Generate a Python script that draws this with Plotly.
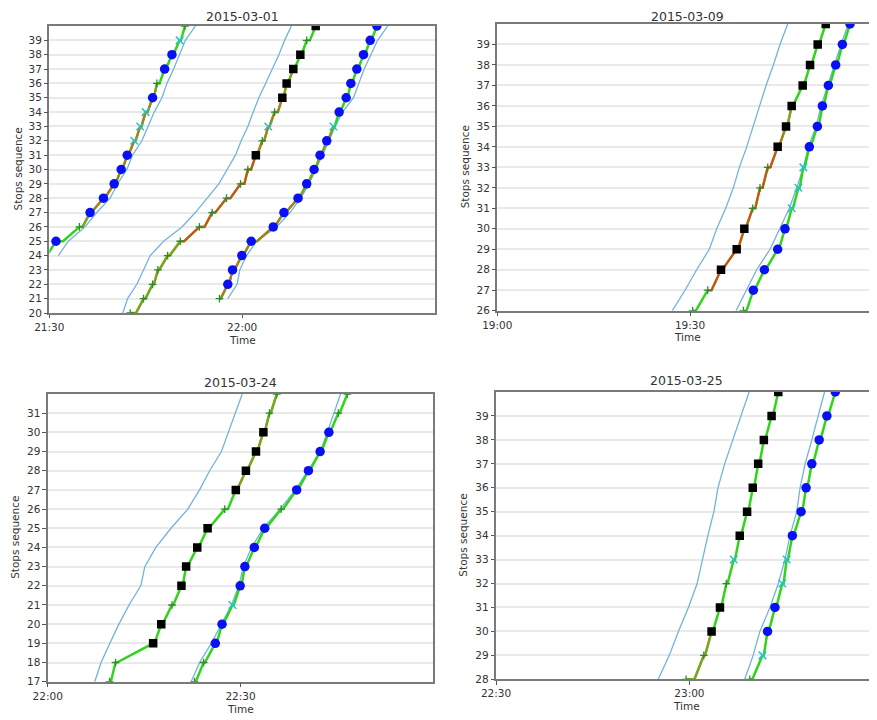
import pandas as pd
import plotly.graph_objects as go

# ======================= DATA =======================
PANEL_DATES = ["2015-03-01", "2015-03-09", "2015-03-24", "2015-03-25"]
PANEL_START = ["21:30", "19:00", "22:00", "22:30"]
PANEL_TICKS = [["21:30", "22:00"], ["19:00", "19:30"], ["22:00", "22:30"], ["22:30", "23:00"]]
PANEL_YRANGE = [(20, 40), (26, 40), (17, 32), (28, 40)]
PANEL_XSPAN_MIN = [60, 59.1, 60, 59.1]
X_LABEL = "Time"
Y_LABEL = "Stops sequence"

# Scheduled trajectories (minutes after panel start, one value per stop from first stop)
P1_SCHED_1_FIRST, P1_SCHED_1 = 24, [1.40, 2.96, 5.56, 7.38, 9.46, 10.61, 12.06, 12.95, 14.40, 15.34, 16.33, 17.52, 18.30, 19.34, 20.23, 21.17, 22.73]
P1_SCHED_2_FIRST, P1_SCHED_2 = 20, [11.44, 12.17, 13.62, 14.66, 15.70, 17.78, 20.64, 22.72, 24.54, 26.37, 27.67, 28.96, 29.85, 30.89, 31.72, 32.60, 33.64, 34.68, 35.72, 36.60, 37.65]
P1_SCHED_3_FIRST, P1_SCHED_3 = 21, [27.77, 29.22, 29.64, 30.68, 32.24, 35.36, 37.44, 39.10, 40.40, 41.45, 42.49, 43.53, 44.46, 45.61, 47.32, 48.20, 48.98, 50.03, 51.07, 52.63]
P2_SCHED_1_FIRST, P2_SCHED_1 = 26, [27.24, 29.22, 31.03, 33.00, 34.15, 35.55, 36.74, 37.68, 38.82, 39.85, 40.79, 41.83, 42.97, 44.00, 45.20]
P2_SCHED_2_FIRST, P2_SCHED_2 = 26, [37.16, 38.71, 40.37, 42.45, 44.00, 45.46, 46.60, 47.64, 48.42, 49.61, 50.39, 51.38, 52.47, 53.50, 54.64]
P3_SCHED_1_FIRST, P3_SCHED_1 = 17, [7.32, 8.31, 9.67, 11.08, 12.65, 14.48, 15.11, 16.83, 19.18, 21.80, 23.63, 25.20, 27.03, 28.07, 29.12, 30.27]
P3_SCHED_2_FIRST, P3_SCHED_2 = 17, [22.32, 23.63, 25.46, 27.03, 28.59, 29.74, 30.42, 31.72, 33.56, 36.17, 38.53, 40.51, 42.45, 43.49, 44.54, 45.58]
P4_SCHED_1_FIRST, P4_SCHED_1 = 28, [25.17, 26.88, 28.29, 29.85, 31.20, 31.98, 32.86, 33.80, 34.43, 35.47, 36.77, 38.07, 39.26]
P4_SCHED_2_FIRST, P4_SCHED_2 = 28, [38.58, 39.89, 40.93, 42.49, 43.79, 44.83, 45.61, 46.65, 47.17, 47.95, 48.99, 50.03, 50.96]

# Observed trips: arrival minutes, dwell minutes, marker code per stop, delay status per segment
P1_A_FIRST = 24
P1_A_ARR = [-0.68, 1.04, 4.68, 6.34, 8.42, 10.09, 11.18, 12.12, 13.21, 14.14, 14.98, 16.07, 16.74, 17.94, 19.08, 20.28, 21.10]
P1_A_DWELL = [0.3, 1.1, 0.5, 0.2, 0.2, 0.2, 0.2, 0.2, 0.2, 0.2, 0.3, 0.2, 0.4, 0.2, 0.2, 0.2, 0.2]
P1_A_MARK = ['+', 'o', '+', 'o', 'o', 'o', 'o', 'o', 'x', 'x', 'x', 'o', '+', 'o', 'o', 'x', '+']
P1_A_STATUS = [0, 0, 1, 2, 2, 2, 2, 2, 2, 2, 2, 1, 0, 0, 0, 0]

P1_B_FIRST = 20
P1_B_ARR = [12.59, 14.66, 16.07, 16.90, 18.41, 20.38, 23.35, 25.33, 27.57, 29.75, 30.89, 32.13, 33.13, 34.06, 35.05, 36.25, 36.92, 37.96, 39.05, 40.04, 41.44]
P1_B_DWELL = [0.9, 0.3, 0.2, 0.2, 0.3, 0.6, 0.8, 0.5, 0.6, 0.6, 0.5, 0.2, 0.3, 0.2, 0.5, 0.2, 0.2, 0.2, 0.2, 0.5, 0.2]
P1_B_MARK = ['+', '+', '+', '+', '+', '+', '+', '+', '+', '+', '+', 's', '+', 'x', '+', 's', 's', 's', 's', '+', 's']
P1_B_STATUS = [1, 1, 1, 1, 1, 3, 3, 3, 3, 3, 3, 2, 2, 2, 2, 1, 1, 0, 0, 0]

P1_C_FIRST = 21
P1_C_ARR = [26.47, 27.77, 28.50, 29.95, 31.41, 34.84, 36.50, 38.69, 40.04, 41.19, 42.12, 43.16, 44.20, 45.09, 46.18, 46.91, 47.84, 48.88, 49.92, 50.96]
P1_C_DWELL = [0.2, 0.2, 0.3, 0.2, 0.9, 0.2, 0.3, 0.2, 0.2, 0.2, 0.2, 0.2, 0.2, 0.2, 0.2, 0.2, 0.2, 0.2, 0.2, 0.2]
P1_C_MARK = ['+', 'o', 'o', 'o', 'o', 'o', 'o', 'o', 'o', 'o', 'o', 'o', 'x', 'o', 'o', 'o', 'o', 'o', 'o', 'o']
P1_C_STATUS = [2, 2, 2, 2, 2, 2, 2, 1, 1, 1, 1, 1, 0, 0, 0, 0, 0, 0, 0]

P2_D_FIRST = 26
P2_D_ARR = [30.41, 32.75, 34.82, 37.26, 38.45, 39.75, 40.89, 42.09, 43.64, 44.94, 45.82, 47.53, 48.68, 49.87, 51.12]
P2_D_DWELL = [0.5, 0.6, 0.2, 0.2, 0.2, 0.4, 0.4, 0.4, 0.2, 0.2, 0.2, 0.2, 0.2, 0.2, 0.2]
P2_D_MARK = ['+', '+', 's', 's', 's', '+', '+', '+', 's', 's', 's', 's', 's', 's', 's']
P2_D_STATUS = [0, 3, 3, 3, 3, 3, 3, 3, 2, 1, 0, 0, 0, 0]

P2_E_FIRST = 26
P2_E_ARR = [38.30, 39.85, 41.57, 43.64, 44.78, 45.82, 46.86, 47.64, 48.57, 49.82, 50.60, 51.53, 52.67, 53.71, 54.90]
P2_E_DWELL = [0.5, 0.2, 0.2, 0.2, 0.2, 0.2, 0.2, 0.2, 0.2, 0.2, 0.2, 0.2, 0.2, 0.2, 0.2]
P2_E_MARK = ['+', 'o', 'o', 'o', 'o', 'x', 'x', 'x', 'o', 'o', 'o', 'o', 'o', 'o', 'o']
P2_E_STATUS = [0, 0, 0, 0, 0, 0, 0, 0, 0, 0, 0, 0, 0, 0]

P3_F_FIRST = 17
P3_F_ARR = [9.62, 10.56, 16.41, 17.67, 19.34, 20.81, 21.54, 23.27, 24.88, 27.55, 29.27, 30.84, 32.41, 33.56, 34.50, 35.65]
P3_F_DWELL = [0.2, 0.2, 0.2, 0.2, 0.2, 0.2, 0.2, 0.2, 0.2, 0.5, 0.2, 0.2, 0.2, 0.2, 0.2, 0.2]
P3_F_MARK = ['+', '+', 's', 's', '+', 's', 's', 's', 's', '+', 's', 's', 's', 's', '+', '+']
P3_F_STATUS = [0, 0, 0, 0, 0, 0, 0, 0, 0, 0, 1, 1, 1, 1, 1]

P3_G_FIRST = 17
P3_G_ARR = [22.84, 24.26, 26.08, 27.13, 28.75, 29.95, 30.68, 32.15, 33.77, 36.33, 38.74, 40.57, 42.39, 43.75, 45.22, 46.63]
P3_G_DWELL = [0.2, 0.2, 0.2, 0.2, 0.2, 0.2, 0.2, 0.2, 0.2, 0.3, 0.2, 0.2, 0.2, 0.2, 0.2, 0.2]
P3_G_MARK = ['+', '+', 'o', 'o', 'x', 'o', 'o', 'o', 'o', '+', 'o', 'o', 'o', 'o', '+', '+']
P3_G_STATUS = [0, 0, 0, 0, 0, 0, 0, 0, 0, 0, 0, 0, 0, 0, 0]

P4_H_FIRST = 28
P4_H_ARR = [29.48, 32.24, 33.44, 34.74, 35.73, 36.87, 37.81, 38.95, 39.83, 40.67, 41.55, 42.75, 43.79]
P4_H_DWELL = [1.3, 0.2, 0.2, 0.2, 0.2, 0.2, 0.2, 0.2, 0.2, 0.2, 0.2, 0.2, 0.2]
P4_H_MARK = ['+', '+', 's', 's', '+', 'x', 's', 's', 's', 's', 's', 's', 's']
P4_H_STATUS = [1, 1, 0, 0, 0, 0, 0, 0, 0, 0, 0, 0]

P4_I_FIRST = 28
P4_I_ARR = [39.37, 41.34, 42.12, 43.27, 44.41, 45.09, 45.97, 47.32, 48.10, 48.99, 50.13, 51.33, 52.63]
P4_I_DWELL = [0.4, 0.2, 0.2, 0.2, 0.2, 0.2, 0.2, 0.2, 0.2, 0.2, 0.2, 0.2, 0.2]
P4_I_MARK = ['+', 'x', 'o', 'o', 'x', 'x', 'o', 'o', 'o', 'o', 'o', 'o', 'o']
P4_I_STATUS = [0, 0, 0, 0, 0, 0, 0, 0, 0, 0, 0, 0]

SCHEDULES = [
    [(P1_SCHED_1_FIRST, P1_SCHED_1), (P1_SCHED_2_FIRST, P1_SCHED_2), (P1_SCHED_3_FIRST, P1_SCHED_3)],
    [(P2_SCHED_1_FIRST, P2_SCHED_1), (P2_SCHED_2_FIRST, P2_SCHED_2)],
    [(P3_SCHED_1_FIRST, P3_SCHED_1), (P3_SCHED_2_FIRST, P3_SCHED_2)],
    [(P4_SCHED_1_FIRST, P4_SCHED_1), (P4_SCHED_2_FIRST, P4_SCHED_2)],
]
TRIPS = [
    [(P1_A_FIRST, P1_A_ARR, P1_A_DWELL, P1_A_MARK, P1_A_STATUS),
     (P1_B_FIRST, P1_B_ARR, P1_B_DWELL, P1_B_MARK, P1_B_STATUS),
     (P1_C_FIRST, P1_C_ARR, P1_C_DWELL, P1_C_MARK, P1_C_STATUS)],
    [(P2_D_FIRST, P2_D_ARR, P2_D_DWELL, P2_D_MARK, P2_D_STATUS),
     (P2_E_FIRST, P2_E_ARR, P2_E_DWELL, P2_E_MARK, P2_E_STATUS)],
    [(P3_F_FIRST, P3_F_ARR, P3_F_DWELL, P3_F_MARK, P3_F_STATUS),
     (P3_G_FIRST, P3_G_ARR, P3_G_DWELL, P3_G_MARK, P3_G_STATUS)],
    [(P4_H_FIRST, P4_H_ARR, P4_H_DWELL, P4_H_MARK, P4_H_STATUS),
     (P4_I_FIRST, P4_I_ARR, P4_I_DWELL, P4_I_MARK, P4_I_STATUS)],
]

# ======================= STYLE / LAYOUT =======================
PAGE_W, PAGE_H = 877, 720
BODY = 8                      # default page margin around the plot div
W, H = PAGE_W - BODY, PAGE_H - BODY
FONT = "DejaVu Sans"
SCHED_COLOR = "#72b2de"
BASE_GREEN = "#30d41a"
STATUS_COLORS = {1: "#8f9a22", 2: "#b8741e", 3: "#da4a1a"}
FRAME = "#7a7a7a"
GRID = "#e9e9e9"
TEXT = "#333333"
MARKERS = {
    '+': dict(symbol="cross-thin", size=5.5, color="#2e8b2e", line=dict(color="#2e8b2e", width=1.3)),
    's': dict(symbol="square", size=8.5, color="#000000", line=dict(width=0)),
    'o': dict(symbol="circle", size=9.5, color="#0a10f5", line=dict(width=0)),
    'x': dict(symbol="x-thin", size=7.5, color="#25c3c8", line=dict(color="#25c3c8", width=1.5)),
}
# plot area boxes in page pixels: (left, right, top, bottom)
BOXES = [(49.3, 435.0, 26.0, 313.0), (497.3, 877.0, 24.0, 310.7),
         (47.7, 433.3, 394.0, 681.7), (496.0, 877.0, 392.0, 679.3)]
TITLE_Y = [16.5, 16, 382, 380]
XLABEL_Y = [340, 337, 709, 706]
YLABEL_X = [17, 465, 15, 463]


def px(xp):
    return (xp - BODY) / W


def py(yp):
    return 1 - (yp - BODY) / H


fig = go.Figure()

for p in range(4):
    xa = "x" if p == 0 else f"x{p + 1}"
    ya = "y" if p == 0 else f"y{p + 1}"
    base = pd.Timestamp(f"{PANEL_DATES[p]} {PANEL_START[p]}")

    def T(m):
        return base + pd.Timedelta(minutes=m)

    # scheduled lines
    xs, ys = [], []
    for first, mins in SCHEDULES[p]:
        xs += [T(m) for m in mins] + [None]
        ys += list(range(first, first + len(mins))) + [None]
    fig.add_trace(go.Scatter(x=xs, y=ys, mode="lines", line=dict(color=SCHED_COLOR, width=1.3),
                             xaxis=xa, yaxis=ya, hoverinfo="skip", showlegend=False))

    # observed base (green) lines
    xs, ys = [], []
    for first, arr, dwell, mark, status in TRIPS[p]:
        for i, (a, d) in enumerate(zip(arr, dwell)):
            xs += [T(a), T(a + d)]
            ys += [first + i, first + i]
        xs.append(None)
        ys.append(None)
    fig.add_trace(go.Scatter(x=xs, y=ys, mode="lines", line=dict(color=BASE_GREEN, width=2.5),
                             xaxis=xa, yaxis=ya, hoverinfo="skip", showlegend=False))

    # delay-status overlays
    for k, col in STATUS_COLORS.items():
        xs, ys = [], []
        for first, arr, dwell, mark, status in TRIPS[p]:
            j = 0
            while j < len(status):
                if status[j] == k:
                    start = j
                    while j < len(status) and status[j] == k:
                        j += 1
                    for i in range(start, j):
                        xs += [T(arr[i]), T(arr[i] + dwell[i])]
                        ys += [first + i, first + i]
                    xs += [T(arr[j]), None]
                    ys += [first + j, None]
                else:
                    j += 1
        if xs:
            fig.add_trace(go.Scatter(x=xs, y=ys, mode="lines", line=dict(color=col, width=2.1),
                                     xaxis=xa, yaxis=ya, hoverinfo="skip", showlegend=False))

    # stop markers
    for code in ['+', 's', 'o', 'x']:
        xs, ys = [], []
        for first, arr, dwell, mark, status in TRIPS[p]:
            for i, (a, c) in enumerate(zip(arr, mark)):
                if c == code:
                    xs.append(T(a))
                    ys.append(first + i)
        if xs:
            fig.add_trace(go.Scatter(x=xs, y=ys, mode="markers", marker=MARKERS[code],
                                     xaxis=xa, yaxis=ya, hoverinfo="skip", showlegend=False))

    l, r, t, b = BOXES[p]
    xdom = [max(0.0, px(l)), min(1.0, px(r))]
    ydom = [max(0.0, py(b)), min(1.0, py(t))]
    lo, hi = PANEL_YRANGE[p]
    tickvals = [pd.Timestamp(f"{PANEL_DATES[p]} {tk}") for tk in PANEL_TICKS[p]]
    fig.layout[xa.replace("x", "xaxis")] = dict(
        type="date", domain=xdom, anchor=ya, automargin=False,
        range=[base, T(PANEL_XSPAN_MIN[p])],
        tickvals=tickvals, ticktext=PANEL_TICKS[p],
        showline=True, linecolor=FRAME, linewidth=1.5, mirror=True,
        ticks="outside", ticklen=3.5, tickwidth=1, tickcolor="#555555",
        tickfont=dict(family=FONT, size=10.5, color=TEXT),
        showgrid=False, zeroline=False, fixedrange=True,
    )
    fig.layout[ya.replace("y", "yaxis")] = dict(
        domain=ydom, anchor=xa, range=[lo, hi], automargin=False,
        tickvals=list(range(lo, hi)),
        showline=True, linecolor=FRAME, linewidth=1.5, mirror=(p in (0, 2)),
        ticks="outside", ticklen=3.5, tickwidth=1, tickcolor="#555555",
        tickfont=dict(family=FONT, size=10.5, color=TEXT),
        showgrid=True, gridcolor=GRID, gridwidth=1.6, zeroline=False, fixedrange=True,
    )

    cx = (l + min(r, l + 385.7)) / 2
    fig.add_annotation(text=PANEL_DATES[p], x=px(cx), y=py(TITLE_Y[p]), xref="paper", yref="paper",
                       showarrow=False, xanchor="center", yanchor="middle",
                       font=dict(family=FONT, size=12.5, color=TEXT))
    fig.add_annotation(text=X_LABEL, x=px(cx), y=py(XLABEL_Y[p]), xref="paper", yref="paper",
                       showarrow=False, xanchor="center", yanchor="middle",
                       font=dict(family=FONT, size=10.5, color=TEXT))
    fig.add_annotation(text=Y_LABEL, x=px(YLABEL_X[p]), y=py((t + b) / 2), xref="paper", yref="paper",
                       showarrow=False, xanchor="center", yanchor="middle", textangle=-90,
                       font=dict(family=FONT, size=10.5, color=TEXT))

fig.update_layout(
    width=W, height=H,
    margin=dict(l=0, r=0, t=0, b=0, autoexpand=False),
    paper_bgcolor="white", plot_bgcolor="white",
    showlegend=False,
    font=dict(family=FONT, color=TEXT),
)

fig.write_html("out.html")
